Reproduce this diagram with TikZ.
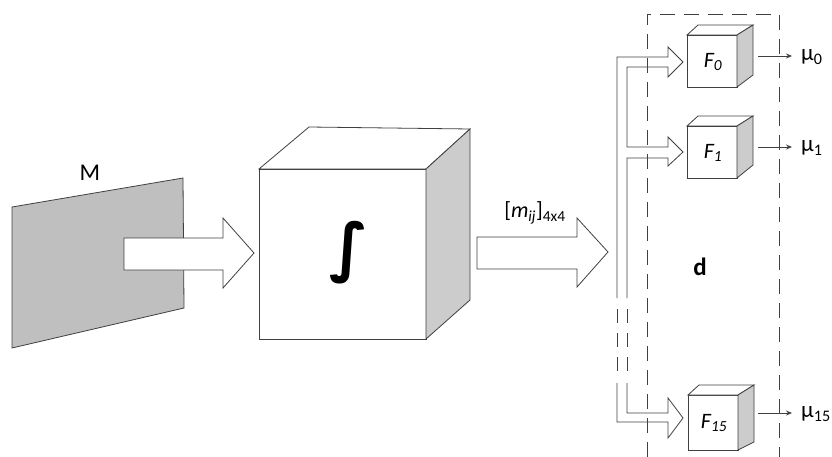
\documentclass[tikz,border=0pt]{standalone}
\usepackage{fontspec}
\setmainfont{Carlito}
\newfontfamily\symfont{DejaVu Sans}
\usetikzlibrary{arrows.meta}
\definecolor{ln}{gray}{0.25}
\definecolor{panel}{gray}{0.75}
\definecolor{side}{gray}{0.8}
\tikzset{
  edge/.style={draw=ln, line width=0.8pt, line join=miter},
  hollow/.style={edge, fill=white},
  dbox/.style={draw=ln, line width=0.9pt, dash pattern=on 15pt off 9pt},
  splitdash/.style={draw=ln, line width=0.8pt, dash pattern=on 14pt off 10pt},
  outarrow/.style={draw=ln, line width=0.8pt, -{Stealth[length=6pt,width=5pt]}},
  lbl/.style={inner sep=0pt, text=black},
}
\begin{document}
\begin{tikzpicture}[x=1pt,y=-1pt]
\useasboundingbox (0,0) rectangle (832,457);
% panel M
\coordinate (m1) at (12,207); \coordinate (m2) at (183,178);
\coordinate (m3) at (184,308); \coordinate (m4) at (12,348);
\fill[panel] (m1) -- (m2) -- (m3) -- (m4) -- cycle;
\draw[edge] (m1) -- (m2) -- (m3) -- (m4) -- cycle;
\node[lbl, font=\fontsize{24}{24}\selectfont] (M) at (90,173) {M};
% hollow arrow 1
\draw[hollow] (124,238) -- (223,238) -- (223,218) -- (254,253) -- (223,288) -- (223,270) -- (124,270) -- cycle;
% big cube
\coordinate (c1) at (259,169); \coordinate (c2) at (426,169);
\coordinate (c3) at (426,339); \coordinate (c4) at (259,339);
\coordinate (c5) at (309,127); \coordinate (c6) at (470,129);
\coordinate (c7) at (470,300);
\draw[hollow] (c1) -- (c2) -- (c3) -- (c4) -- cycle;
\draw[hollow] (c1) -- (c5) -- (c6) -- (c2) -- cycle;
\draw[edge, fill=side] (c2) -- (c6) -- (c7) -- (c3) -- cycle;
\node[lbl, font=\symfont\bfseries\fontsize{64}{64}\selectfont] (int) at (349,253) {∫};
% hollow arrow 2
\draw[hollow] (477,237) -- (577,237) -- (577,218) -- (608,252) -- (577,287) -- (577,269) -- (477,269) -- cycle;
\node[lbl, font=\fontsize{22}{22}\selectfont] (mij) at (535,213) {[\textit{m\textsubscript{ij}}]\textsubscript{4x4}};
% dashed box d
\draw[dbox] (647,457) -- (647,14) -- (779,14) -- (779,457);
\node[lbl, font=\bfseries\fontsize{25}{25}\selectfont] (d) at (700,267) {d};
% small cubes
\foreach \x/\y/\lab/\nm in {687/35/0/F0, 687/126/1/F1, 688/395/15/F15}{
  \draw[hollow] (\x,\y) rectangle ++(50,\ifnum\lab=15 55\else 52\fi);
  \draw[hollow] (\x,\y) -- ++(11,-10) -- ++(55,0) -- ++(-16,10) -- cycle;
  \draw[edge, fill=side] (\x+50,\y) -- ++(16,-10) -- ++(0,\ifnum\lab=15 57\else \ifnum\lab=1 49\else 50\fi\fi) -- (\x+50,\y+\ifnum\lab=15 55\else 52\fi) -- cycle;
  \node[lbl, font=\fontsize{22}{22}\selectfont] (\nm) at (\x+26,\y+\ifnum\lab=15 28\else 27\fi) {\textit{F\textsubscript{\lab}}};
}
% outputs
\coordinate (o0a) at (758,56); \coordinate (o0b) at (792,56);
\coordinate (o1a) at (758,147); \coordinate (o1b) at (792,147);
\coordinate (o15a) at (758,413); \coordinate (o15b) at (792,413);
\draw[outarrow] (o0a) -- (o0b);
\draw[outarrow] (o1a) -- (o1b);
\draw[outarrow] (o15a) -- (o15b);
\node[lbl, anchor=west, font=\fontsize{23}{23}\selectfont] (mu0) at (801,57) {μ\textsubscript{0}};
\node[lbl, anchor=west, font=\fontsize{23}{23}\selectfont] (mu1) at (801,148) {μ\textsubscript{1}};
\node[lbl, anchor=west, font=\fontsize{23}{23}\selectfont] (mu15) at (801,414) {μ\textsubscript{15}};
% distribution lines
\draw[edge] (617,298) -- (617,57) -- (668,57) -- (668,47) -- (683,62) -- (668,77) -- (668,67) -- (627,67) -- (627,147) -- (668,147) -- (668,137) -- (683,152) -- (668,166) -- (668,158) -- (627,158) -- (627,298);
\draw[splitdash] (617,309) -- (617,373);
\draw[splitdash] (627,309) -- (627,373);
\draw[edge] (627,383) -- (627,413) -- (668,413) -- (668,398) -- (683,418) -- (668,438) -- (668,422) -- (617,422) -- (617,383);
\end{tikzpicture}
\end{document}
